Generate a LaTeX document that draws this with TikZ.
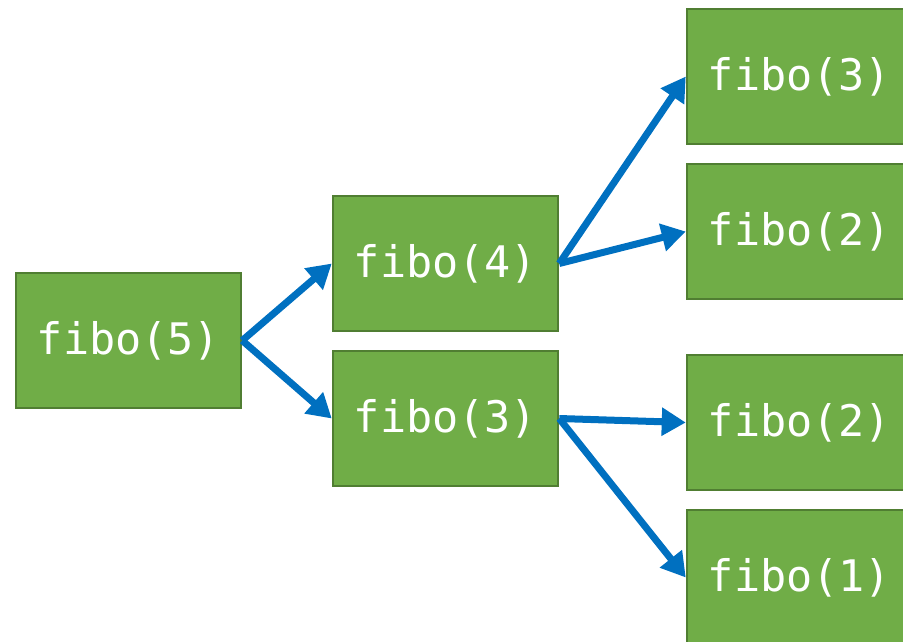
\documentclass[tikz,border=0pt]{standalone}
\usepackage{fontspec}
\newfontfamily\codefont{DejaVu Sans Mono}
\usetikzlibrary{arrows.meta}
\definecolor{boxfill}{HTML}{70AD47}
\definecolor{boxline}{HTML}{507E32}
\definecolor{arrowblue}{HTML}{0070C0}
\tikzset{
  call/.style={draw=boxline, line width=2.5pt, fill=boxfill, minimum width=225pt,
    minimum height=135pt, inner sep=0pt, text=white,
    font=\codefont\fontsize{43.5}{48}\selectfont},
  link/.style={draw=arrowblue, line width=7pt,
    -{Triangle[length=24pt,width=27pt]}}
}
\begin{document}
\begin{tikzpicture}[x=1pt,y=-1pt]
  \useasboundingbox (0,0) rectangle (903,641);
  \begin{scope}
    \clip (0,0) rectangle (903,641);
    \node[call] (f5)  at (128.5,340.5) {fibo(5)};
    \node[call] (f4)  at (445.5,263.5) {fibo(4)};
    \node[call] (f3a) at (445.5,418.5) {fibo(3)};
    \node[call] (f3b) at (799.5,76.5)  {fibo(3)};
    \node[call] (f2a) at (799.5,231.5) {fibo(2)};
    \node[call] (f2b) at (799.5,422.5) {fibo(2)};
    \node[call] (f1)  at (799.5,577.5) {fibo(1)};
    \draw[link] (f5.east) -- (f4.west);
    \draw[link] (f5.east) -- (f3a.west);
    \draw[link] (f4.east) -- (f3b.west);
    \draw[link] (f4.east) -- (f2a.west);
    \draw[link] (f3a.east) -- (f2b.west);
    \draw[link] (f3a.east) -- (f1.west);
  \end{scope}
\end{tikzpicture}
\end{document}
